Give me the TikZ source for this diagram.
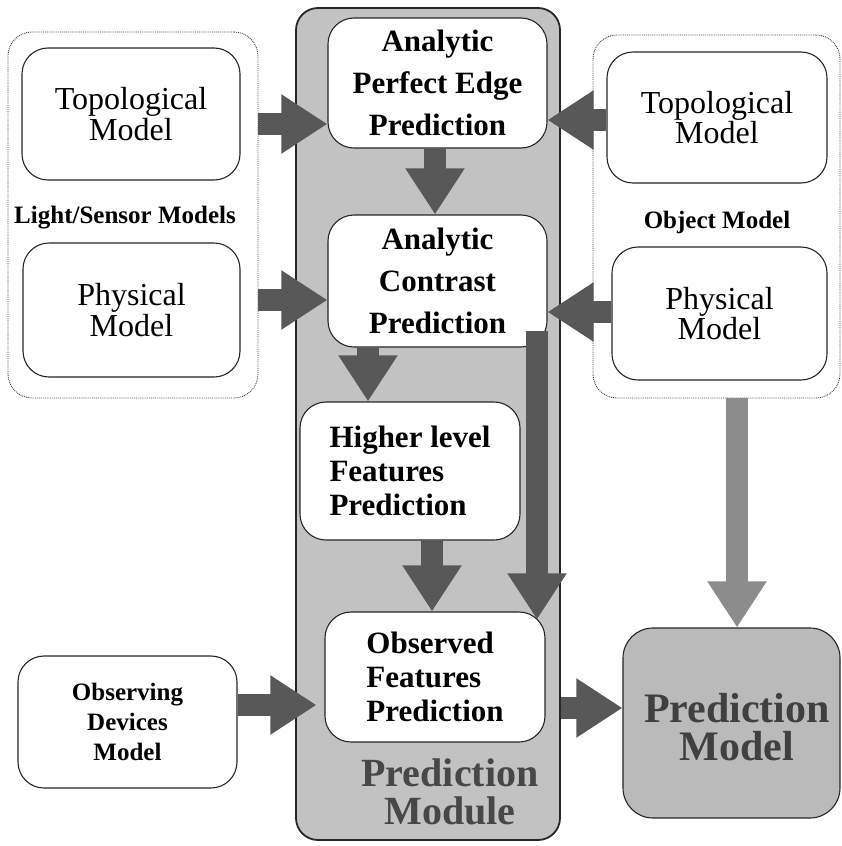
\documentclass[tikz,border=0pt]{standalone}
\usepackage{fontspec}
\setmainfont{Liberation Serif}
\usetikzlibrary{arrows.meta}
\definecolor{arrowgray}{RGB}{88,88,88}
\definecolor{lightarrow}{RGB}{140,140,140}
\definecolor{modfill}{RGB}{194,194,194}
\definecolor{pmfill}{RGB}{186,186,186}
\begin{document}
\begin{tikzpicture}[x=1pt,y=-1pt,
  group/.style={draw=black!75, densely dotted, line width=0.9pt, rounded corners=24pt, inner sep=0pt},
  box/.style={draw=black!85, line width=1.1pt, fill=white, rounded corners=26pt, inner sep=0pt, align=center},
  regtext/.style={font=\fontsize{32}{28}\selectfont},
  boldtext/.style={font=\fontsize{31}{42}\selectfont\bfseries},
  boldtight/.style={font=\fontsize{31}{34}\selectfont\bfseries},
  smallbold/.style={font=\fontsize{25}{30}\selectfont\bfseries},
  fat/.style={line width=22pt, draw=arrowgray, -{Triangle[length=46pt,width=56pt]}}]
\useasboundingbox (0,0) rectangle (842,846);

% left group
\node[group, minimum width=250pt, minimum height=366pt] (lgroup) at (133,215) {};
\node[box, regtext, minimum width=218pt, minimum height=132pt] (ltopo) at (131,114) {Topological\\Model};
\node[box, regtext, minimum width=217pt, minimum height=134pt] (lphys) at (131.5,310) {Physical\\Model};
\node[smallbold] (llabel) at (125,218) {Light/Sensor Models};

% right group
\node[group, minimum width=247pt, minimum height=363pt] (rgroup) at (716.5,216.5) {};
\node[box, regtext, minimum width=220pt, minimum height=131pt] (rtopo) at (717,117.5) {Topological\\Model};
\node[box, regtext, minimum width=215pt, minimum height=133pt] (rphys) at (719.5,313.5) {Physical\\Model};
\node[smallbold] (rlabel) at (717,222) {Object Model};

% prediction module
\node[draw=black!85, line width=1.8pt, fill=modfill, rounded corners=22pt, minimum width=264pt, minimum height=832pt] (pmod) at (428,424) {};
\node[box, boldtext, minimum width=219pt, minimum height=130pt] (apep) at (437.5,83) {Analytic\\Perfect Edge\\Prediction};
\node[box, boldtext, minimum width=219pt, minimum height=132pt] (acp) at (437.5,281) {Analytic\\Contrast\\Prediction};
\node[box, boldtight, align=left, minimum width=220pt, minimum height=138pt] (hlfp) at (410,471) {Higher level\\Features\\Prediction};
\node[box, boldtight, align=left, minimum width=220pt, minimum height=130pt] (ofp) at (435,677) {Observed\\Features\\Prediction};
\node[font=\fontsize{40}{38}\selectfont\bfseries, text=black!72, align=center] (modlabel) at (450,792) {Prediction\\Module};

% observing devices
\node[box, smallbold, minimum width=219pt, minimum height=132pt] (obs) at (127.5,722) {Observing\\Devices\\Model};

% prediction model
\node[draw=black!85, line width=1.1pt, fill=pmfill, rounded corners=30pt, minimum width=217pt, minimum height=190pt] (pmodel) at (731.5,723) {};
\node[align=center, font=\fontsize{42}{38}\selectfont\bfseries, text=black!75] (pmtext) at (737,727) {Prediction\\Model};

% arrows
\draw[fat] (lgroup.east |- 0,124) -- (apep.west |- 0,124);
\draw[fat] (lgroup.east |- 0,300) -- (acp.west |- 0,300);
\draw[fat] (rtopo.west |- 0,120) -- (apep.east |- 0,120);
\draw[fat] (rphys.west |- 0,312) -- (acp.east |- 0,312);
\draw[fat] (apep.south -| 435,0) -- (acp.north -| 435,0);
\draw[fat] (acp.south -| 368,0) -- (hlfp.north -| 368,0);
\draw[fat] (hlfp.south -| 432,0) -- (ofp.north -| 432,0);
\draw[fat, shorten <=-17pt, shorten >=-8pt] (acp.south -| 537,0) -- (ofp.north -| 537,0);
\draw[fat, draw=lightarrow] (rgroup.south -| 737,0) -- (pmodel.north -| 737,0);
\draw[fat, shorten >=8pt] (obs.east |- 0,705) -- (ofp.west |- 0,705);
\draw[fat] (pmod.east |- 0,708) -- (pmodel.west |- 0,708);
\end{tikzpicture}
\end{document}
